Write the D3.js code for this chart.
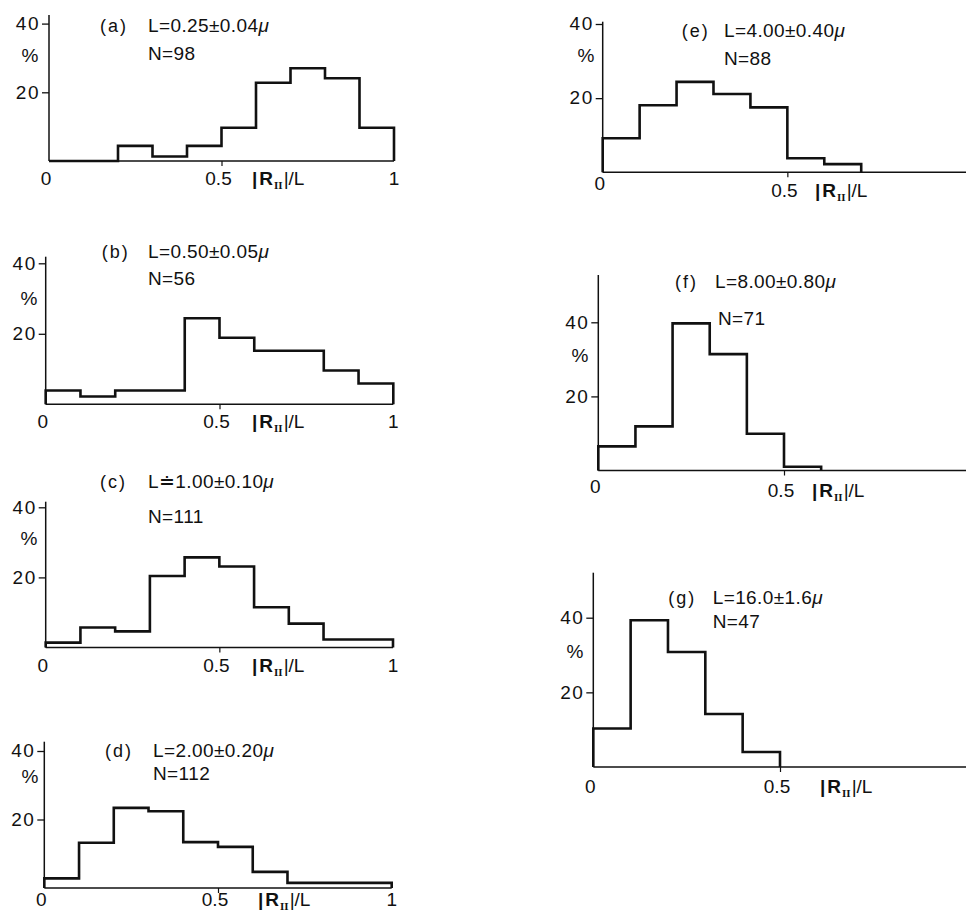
<!DOCTYPE html>
<html>
<head>
<meta charset="utf-8">
<script src="https://cdn.jsdelivr.net/npm/d3@7"></script>
<style>
  body { margin: 0; background: #fff; }
  text { font-family: "Liberation Sans", Arial, sans-serif; fill: #111; }
</style>
</head>
<body>
<div id="container"></div>
<script>
// <-------- data: % per bin of |R_II|/L (bins of 0.1) -------->
const binWidth = 0.1;
const pctA = [0, 0, 4.4, 1.3, 4.4, 9.7, 22.8, 27.0, 24.1, 9.7];
const pctB = [3.9, 2.2, 3.9, 3.9, 24.4, 18.9, 15.2, 15.2, 9.6, 5.9];
const pctC = [1.4, 5.7, 4.6, 20.4, 25.7, 23.1, 11.5, 6.8, 2.3, 2.3];
const pctD = [2.8, 13.2, 23.4, 22.4, 13.4, 12.0, 4.7, 1.5, 1.5, 1.5];
const pctE = [9.2, 18.1, 24.4, 21.1, 17.5, 3.8, 2.2];
const pctF = [6.5, 11.9, 39.7, 31.4, 9.9, 1.0];
const pctG = [10.3, 39.3, 30.8, 14.2, 4.0];

const tags = ["a", "b", "c", "d", "e", "f", "g"];
const lengthLabels = ["L=0.25±0.04", "L=0.50±0.05", "L≐1.00±0.10", "L=2.00±0.20",
                      "L=4.00±0.40", "L=8.00±0.80", "L=16.0±1.6"];
const counts = [98, 56, 111, 112, 88, 71, 47];
const yTicks = [20, 40];
const xTicks = [0, 0.5, 1];
const xTickLabels = ["0", "0.5", "1"];

const allPct = [pctA, pctB, pctC, pctD, pctE, pctF, pctG];

// <-------- where each little panel sits on the page -------->
let layout = [
  {x0: 49,    x1: 394,   yb: 161,   y40: 23.6,  top: 15,    right: 394,   tagX: 100,   labX: 148,   labY: 32,  nY: 60,  nX: 148,   pctX: 30,  pctY: 62,  zeroY: 185, halfY: 185, rX: 252},
  {x0: 45.7,  x1: 393.3, yb: 404.3, y40: 263.3, top: 256.7, right: 393.3, tagX: 101.7, labX: 148,   labY: 258, nY: 285, nX: 148,   pctX: 29,  pctY: 305, zeroY: 428, halfY: 428, rX: 252},
  {x0: 45.7,  x1: 393,   yb: 647.5, y40: 507.3, top: 501.7, right: 393,   tagX: 100,   labX: 148,   labY: 488, nY: 523, nX: 148,   pctX: 29,  pctY: 545, zeroY: 672, halfY: 672, rX: 252},
  {x0: 44.3,  x1: 391.7, yb: 888,   y40: 751,   top: 741.7, right: 391.7, tagX: 105,   labX: 153,   labY: 757, nY: 780, nX: 153,   pctX: 30,  pctY: 783, zeroY: 906, halfY: 906, rX: 258},
  {x0: 602.7, x1: 972,   yb: 172.3, y40: 24,    top: 21.7,  right: 966,   tagX: 681.7, labX: 724,   labY: 37,  nY: 65,  nX: 724,   pctX: 586, pctY: 62,  zeroY: 190, halfY: 197, rX: 815},
  {x0: 598.3, x1: 969.7, yb: 470.5, y40: 322.3, top: 275,   right: 966,   tagX: 675,   labX: 715,   labY: 288, nY: 325, nX: 718,   pctX: 580, pctY: 362, zeroY: 493, halfY: 497, rX: 812},
  {x0: 593.3, x1: 966.7, yb: 767,   y40: 617.7, top: 572.7, right: 966,   tagX: 668.3, labX: 712.7, labY: 604, nY: 628, nX: 712.7, pctX: 575, pctY: 658, zeroY: 793, halfY: 793, rX: 820}
];

let viz = d3.select("#container")
  .append("svg")
    .attr("width", 966)
    .attr("height", 912)
    .style("background-color", "#fff");

function drawPanel(p, i){
  let vals = allPct[i];
  let x = d3.scaleLinear().domain([0, 1]).range([p.x0, p.x1]);
  let y = d3.scaleLinear().domain([0, 40]).range([p.yb, p.y40]);
  let g = viz.append("g").attr("class", "panel");

  // axis lines
  g.append("line")
    .attr("x1", p.x0).attr("x2", p.x0)
    .attr("y1", p.top).attr("y2", p.yb)
    .attr("stroke", "#111").attr("stroke-width", 1.5);
  g.append("line")
    .attr("x1", p.x0).attr("x2", p.right)
    .attr("y1", p.yb).attr("y2", p.yb)
    .attr("stroke", "#111").attr("stroke-width", 1.5);

  // y ticks 20, 40
  let yAxis = g.append("g")
    .attr("transform", "translate(" + p.x0 + ",0)")
    .call(d3.axisLeft(y).tickValues(yTicks).tickSize(7).tickPadding(2));
  yAxis.select(".domain").remove();
  yAxis.attr("font-family", null).attr("font-size", null);
  yAxis.selectAll("line").attr("stroke", "#111").attr("stroke-width", 1.3);
  yAxis.selectAll("text")
    .style("font-size", "19px")
    .style("letter-spacing", "1.5px")
    .attr("dy", "0.3em");

  // small tick at 0.5 below the axis
  let xAxis = g.append("g")
    .attr("transform", "translate(0," + p.yb + ")")
    .call(d3.axisBottom(x).tickValues([0.5]).tickSize(5).tickFormat(""));
  xAxis.select(".domain").remove();
  xAxis.selectAll("line").attr("stroke", "#111").attr("stroke-width", 1.2);

  // x tick labels
  xTicks.forEach(function(v, k){
    if (x(v) > 960) return;
    let ty = (v == 0.5) ? p.halfY : p.zeroY;
    let dx = (v == 1) ? 0 : -3;
    g.append("text")
      .attr("x", x(v) + dx)
      .attr("y", ty)
      .attr("text-anchor", "middle")
      .style("font-size", "19px")
      .text(xTickLabels[k]);
  });

  // |R_II|/L
  let rt = g.append("text")
    .attr("x", p.rX)
    .attr("y", p.halfY)
    .style("font-size", "19px");
  rt.append("tspan").style("font-weight", "bold").text("|");
  rt.append("tspan").style("font-weight", "bold").attr("dx", 2).text("R");
  rt.append("tspan")
    .style("font-family", "'Liberation Serif', serif")
    .style("font-weight", "bold")
    .style("font-size", "11px")
    .attr("dy", 4).attr("dx", 1)
    .text("II");
  rt.append("tspan").attr("dy", -4).attr("dx", 1).text("|/L");

  // "%" unit
  g.append("text")
    .attr("x", p.pctX).attr("y", p.pctY)
    .attr("text-anchor", "middle")
    .style("font-size", "19px")
    .text("%");

  // panel captions
  g.append("text")
    .attr("x", p.tagX).attr("y", p.labY)
    .style("font-size", "18px")
    .style("letter-spacing", "2px")
    .text("(" + tags[i] + ")");
  let lt = g.append("text")
    .attr("x", p.labX).attr("y", p.labY)
    .style("font-size", "19px")
    .style("letter-spacing", "0.4px");
  lt.append("tspan").text(lengthLabels[i]);
  lt.append("tspan").style("font-style", "italic").text("μ");
  g.append("text")
    .attr("x", p.nX).attr("y", p.nY)
    .style("font-size", "19px")
    .style("letter-spacing", "0.4px")
    .text("N=" + counts[i]);

  // histogram outline as a step line
  let pts = [[0, 0]];
  vals.forEach(function(v, k){
    pts.push([k * binWidth, v]);
    pts.push([(k + 1) * binWidth, v]);
  });
  pts.push([vals.length * binWidth, 0]);

  let stepLine = d3.line()
    .x(d => x(d[0]))
    .y(d => y(d[1]));

  g.append("path")
    .attr("d", stepLine(pts))
    .attr("fill", "none")
    .attr("stroke", "#111")
    .attr("stroke-width", 2.6)
    .attr("stroke-linejoin", "miter");
}

layout.forEach(drawPanel);
</script>
</body>
</html>
